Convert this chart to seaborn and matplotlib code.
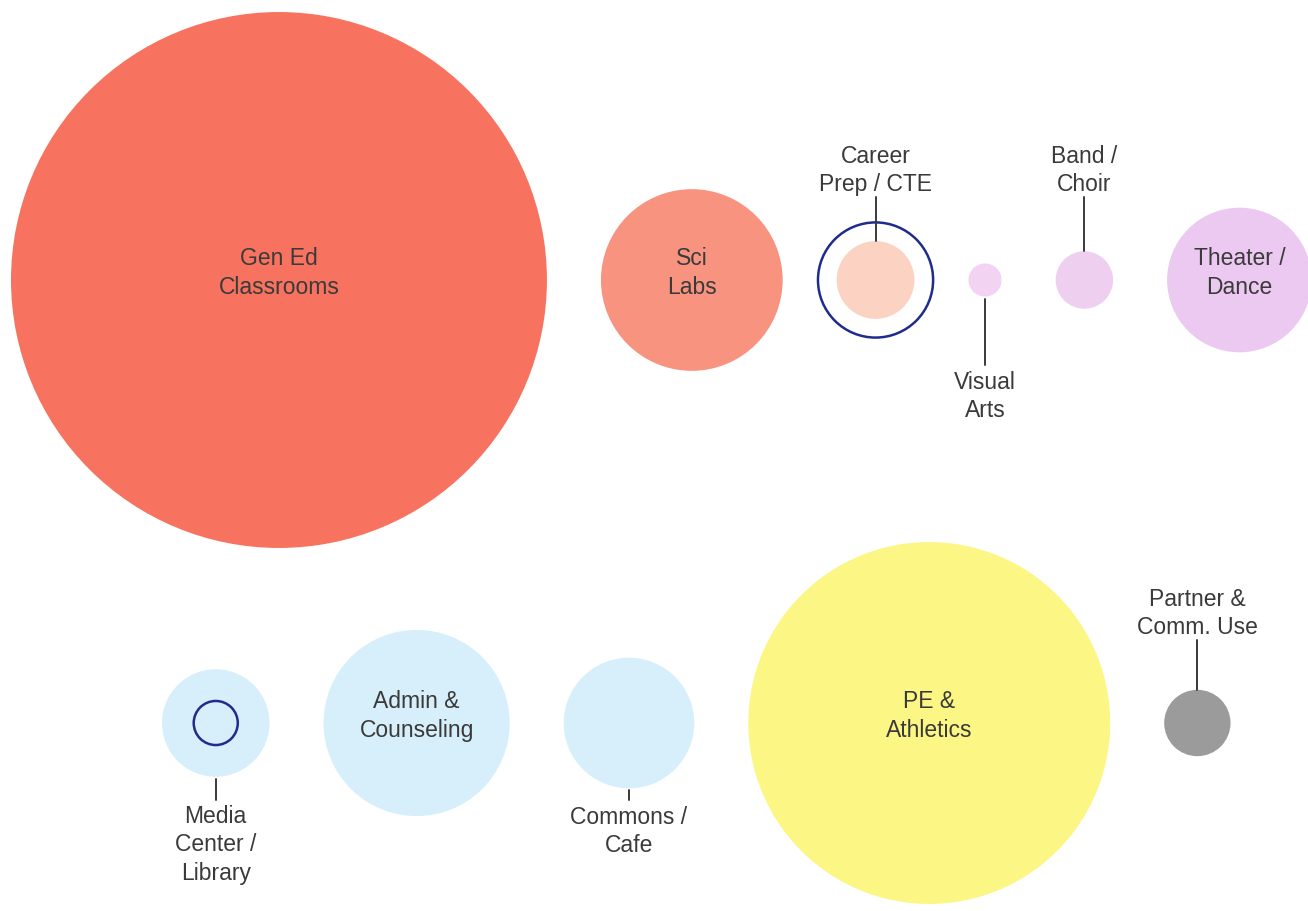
import numpy as np
import pandas as pd
import seaborn as sns
import matplotlib.pyplot as plt
from matplotlib.patches import Circle

# share of total program area (%)
top_spaces = ["Gen Ed\nClassrooms", "Sci\nLabs", "Career\nPrep / CTE",
              "Visual\nArts", "Band /\nChoir", "Theater /\nDance"]
top_share = [52.2, 6.0, 1.1, 0.2, 0.6, 3.8]
top_colors = ["#F7735F", "#F8937F", "#FCD3C3", "#F3D3F2", "#EFCFF0", "#ECC9F0"]
top_label_pos = ["in", "in", "above", "below", "above", "in"]

bottom_spaces = ["Media\nCenter /\nLibrary", "Admin &\nCounseling", "Commons /\nCafe",
                 "PE &\nAthletics", "Partner &\nComm. Use"]
bottom_share = [2.1, 6.3, 3.1, 23.8, 0.8]
bottom_colors = ["#D7EFFA", "#D7EFFA", "#D7EFFA", "#FCF684", "#9B9B9B"]
bottom_label_pos = ["below", "in", "below", "in", "above"]

# hand-drawn highlight rings (space -> ring radius relative to bubble)
highlights = {"Career\nPrep / CTE": 1.48, "Media\nCenter /\nLibrary": 0.41}

# ---------------- layout ----------------
W, H, DPI = 1308, 912, 100
K = 37.09      # px per sqrt(%)
GAP = 54       # px between neighbouring bubbles
LINE_H = 27    # px between text lines
rows = [
    dict(spaces=top_spaces, share=top_share, colors=top_colors, pos=top_label_pos,
         left=11, y=281, above=157, below=383),
    dict(spaces=bottom_spaces, share=bottom_share, colors=bottom_colors, pos=bottom_label_pos,
         left=162, y=724, above=600, below=818),
]

recs = []
for row in rows:
    edge = row["left"]
    for name, v, c, p in zip(row["spaces"], row["share"], row["colors"], row["pos"]):
        r = K * np.sqrt(v)
        recs.append(dict(space=name, share=v, color=c, pos=p, r=r,
                         x=edge + r, y=row["y"], above=row["above"], below=row["below"]))
        edge += 2 * r + GAP
df = pd.DataFrame(recs)

sns.set_theme(style="white")
plt.rcParams["font.family"] = ["Liberation Sans", "DejaVu Sans"]

fig = plt.figure(figsize=(W / DPI, H / DPI), dpi=DPI)
ax = fig.add_axes([0, 0, 1, 1])

max_share = df["share"].max()
s_max = (2 * K * np.sqrt(max_share) * 72 / DPI) ** 2
sns.scatterplot(data=df, x="x", y="y", hue="space",
                palette=dict(zip(df["space"], df["color"])),
                size="share", sizes=(0, s_max), size_norm=(0, max_share),
                linewidth=0, legend=False, ax=ax)

txt_kw = dict(ha="center", va="center", fontsize=16.5, color="#3a3a3a", linespacing=1.33)
line_kw = dict(color="#3a3a3a", lw=1.4)
for _, d in df.iterrows():
    n = d["space"].count("\n") + 1
    span = (n - 1) * LINE_H
    if d["pos"] == "in":
        ax.text(d["x"], d["y"] - 8, d["space"], **txt_kw)
    elif d["pos"] == "above":
        ax.text(d["x"], d["above"] + span / 2, d["space"], **txt_kw)
        ax.plot([d["x"], d["x"]], [d["above"] + span + 14, d["y"] - d["r"]], **line_kw)
    else:
        ax.text(d["x"], d["below"] + span / 2, d["space"], **txt_kw)
        ax.plot([d["x"], d["x"]], [d["y"] + d["r"] + 2, d["below"] - 17], **line_kw)
    if d["space"] in highlights:
        ax.add_patch(Circle((d["x"], d["y"]), d["r"] * highlights[d["space"]],
                            fill=False, ec="#1F2C8C", lw=1.8))

ax.set_xlim(0, W)
ax.set_ylim(H, 0)
ax.axis("off")
fig.savefig("out.png", dpi=DPI, facecolor="white")
